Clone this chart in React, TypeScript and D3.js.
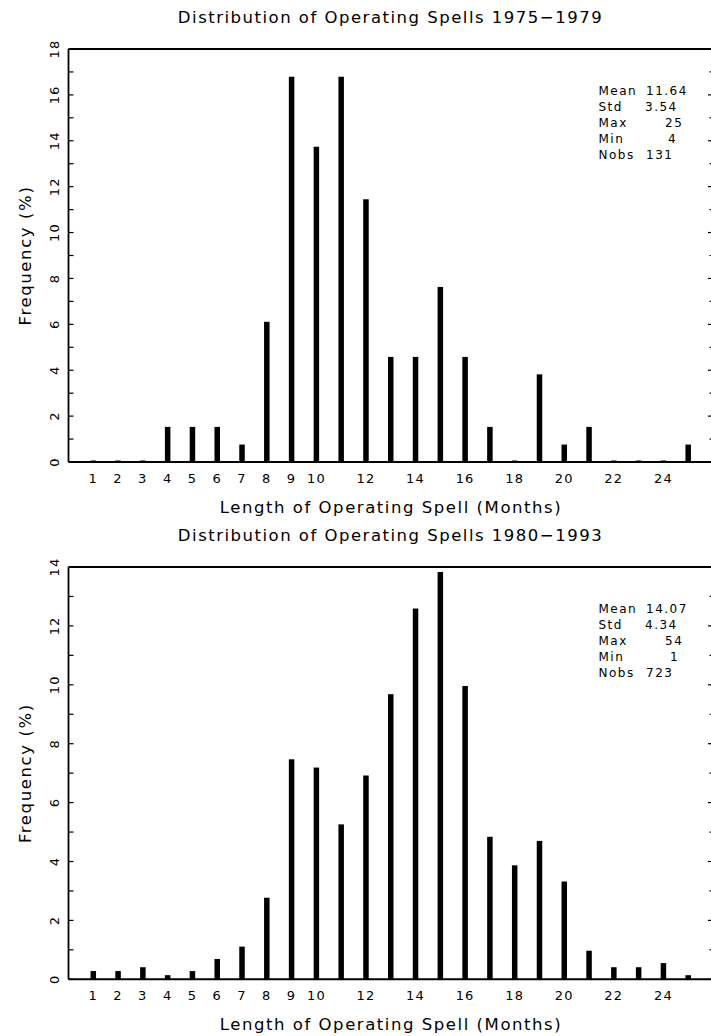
import React from "react";
import * as d3 from "d3";

// ---- data ----
const months = d3.range(1, 26);
const freq1975 = [0, 0, 0, 1.53, 1.53, 1.53, 0.76, 6.11, 16.79, 13.74, 16.79, 11.45, 4.58, 4.58, 7.63, 4.58, 1.53, 0, 3.82, 0.76, 1.53, 0, 0, 0, 0.76];
const freq1980 = [0.28, 0.28, 0.41, 0.14, 0.28, 0.69, 1.11, 2.77, 7.47, 7.19, 5.26, 6.92, 9.68, 12.59, 13.83, 9.96, 4.84, 3.87, 4.70, 3.32, 0.97, 0.41, 0.41, 0.55, 0.14];
const xTickLabels = [1, 2, 3, 4, 5, 6, 7, 8, 9, 10, 12, 14, 16, 18, 20, 22, 24];
const statNames = ["Mean", "Std", "Max", "Min", "Nobs"];
const stats1975 = ["11.64", "3.54", "25", "4", "131"];
const stats1980 = ["14.07", "4.34", "54", "1", "723"];
const titles = ["Distribution of Operating Spells 1975\u22121979", "Distribution of Operating Spells 1980\u22121993"];
const yMaxes = [18, 14];
const xTitle = "Length of Operating Spell (Months)";
const yTitle = "Frequency (%)";

// ---- layout ----
const W = 711, H = 1036;
const FONT = "'DejaVu Sans', sans-serif";
const X0 = 68.5, X1 = 713;
const panels = [
  { top: 49, bottom: 462, values: freq1975, stats: stats1975, statX: [646, 645, 665, 668, 646] },
  { top: 567, bottom: 979.3, values: freq1980, stats: stats1980, statX: [646, 645, 665, 670, 646] },
];

const x = d3.scaleLinear().domain([0, 26]).range([X0, X1]);

function Panel({ p, i }: { p: any; i: number }) {
  const y = d3.scaleLinear().domain([0, yMaxes[i]]).range([p.bottom, p.top]);
  const ticks = d3.range(0, yMaxes[i] + 1, 1);
  const bw = 5.5;
  const midY = (p.top + p.bottom) / 2;
  return (
    <g>
      <text x={390.5} y={p.top - 32} dy="0.35em" textAnchor="middle" fontSize={16.5} letterSpacing={1.5}>
        {titles[i]}
      </text>
      {/* bars */}
      {p.values.map((v: number, k: number) => {
        const h = Math.max(p.bottom - y(v), 1.5);
        return <rect key={k} x={x(months[k]) - bw / 2} y={p.bottom - h} width={bw} height={h} fill="#000" />;
      })}
      {/* frame */}
      <line x1={X0} x2={X1} y1={p.top} y2={p.top} stroke="#000" strokeWidth={2} />
      <line x1={X0} x2={X1} y1={p.bottom} y2={p.bottom} stroke="#000" strokeWidth={2} />
      <line x1={X0} x2={X0} y1={p.top} y2={p.bottom} stroke="#000" strokeWidth={1.8} />
      <line x1={X1} x2={X1} y1={p.top} y2={p.bottom} stroke="#000" strokeWidth={1.8} />
      {/* y ticks */}
      {ticks.map((t) => (
        <g key={t}>
          <line x1={X0} x2={X0 + 5} y1={y(t)} y2={y(t)} stroke="#000" strokeWidth={1.2} />
          <line x1={X1} x2={X1 - (t % 2 === 0 ? 5 : 3.5)} y1={y(t)} y2={y(t)} stroke="#000" strokeWidth={1.2} />
          {t % 2 === 0 && (
            <text
              transform={`translate(54,${y(t)}) rotate(-90)`}
              textAnchor="middle"
              dy="0.35em"
              fontSize={13}
              letterSpacing={1.2}
            >
              {t}
            </text>
          )}
        </g>
      ))}
      {/* x tick labels */}
      {xTickLabels.map((t) => (
        <text key={t} x={x(t)} y={p.bottom + 16.5} dy="0.35em" textAnchor="middle" fontSize={13} letterSpacing={1.2}>
          {t}
        </text>
      ))}
      <text x={391} y={p.bottom + 45} dy="0.35em" textAnchor="middle" fontSize={16.5} letterSpacing={1.55}>
        {xTitle}
      </text>
      <text transform={`translate(25,${midY}) rotate(-90)`} textAnchor="middle" dy="0.35em" fontSize={16.5} letterSpacing={1.6}>
        {yTitle}
      </text>
      {/* stats */}
      {statNames.map((s, r) => (
        <g key={s}>
          <text x={598.5} y={p.top + 41.5 + r * 16} dy="0.35em" fontSize={12} letterSpacing={1.5}>{s}</text>
          <text x={p.statX[r]} y={p.top + 41.5 + r * 16} dy="0.35em" fontSize={12} letterSpacing={1.5}>{p.stats[r]}</text>
        </g>
      ))}
    </g>
  );
}

export default function App() {
  return (
    <svg
      width={W}
      height={H}
      viewBox={`0 0 ${W} ${H}`}
      style={{ position: "absolute", left: 0, top: 0, background: "#fff", fontFamily: FONT }}
    >
      <rect width={W} height={H} fill="#fff" />
      {panels.map((p, i) => (
        <Panel key={i} p={p} i={i} />
      ))}
    </svg>
  );
}
